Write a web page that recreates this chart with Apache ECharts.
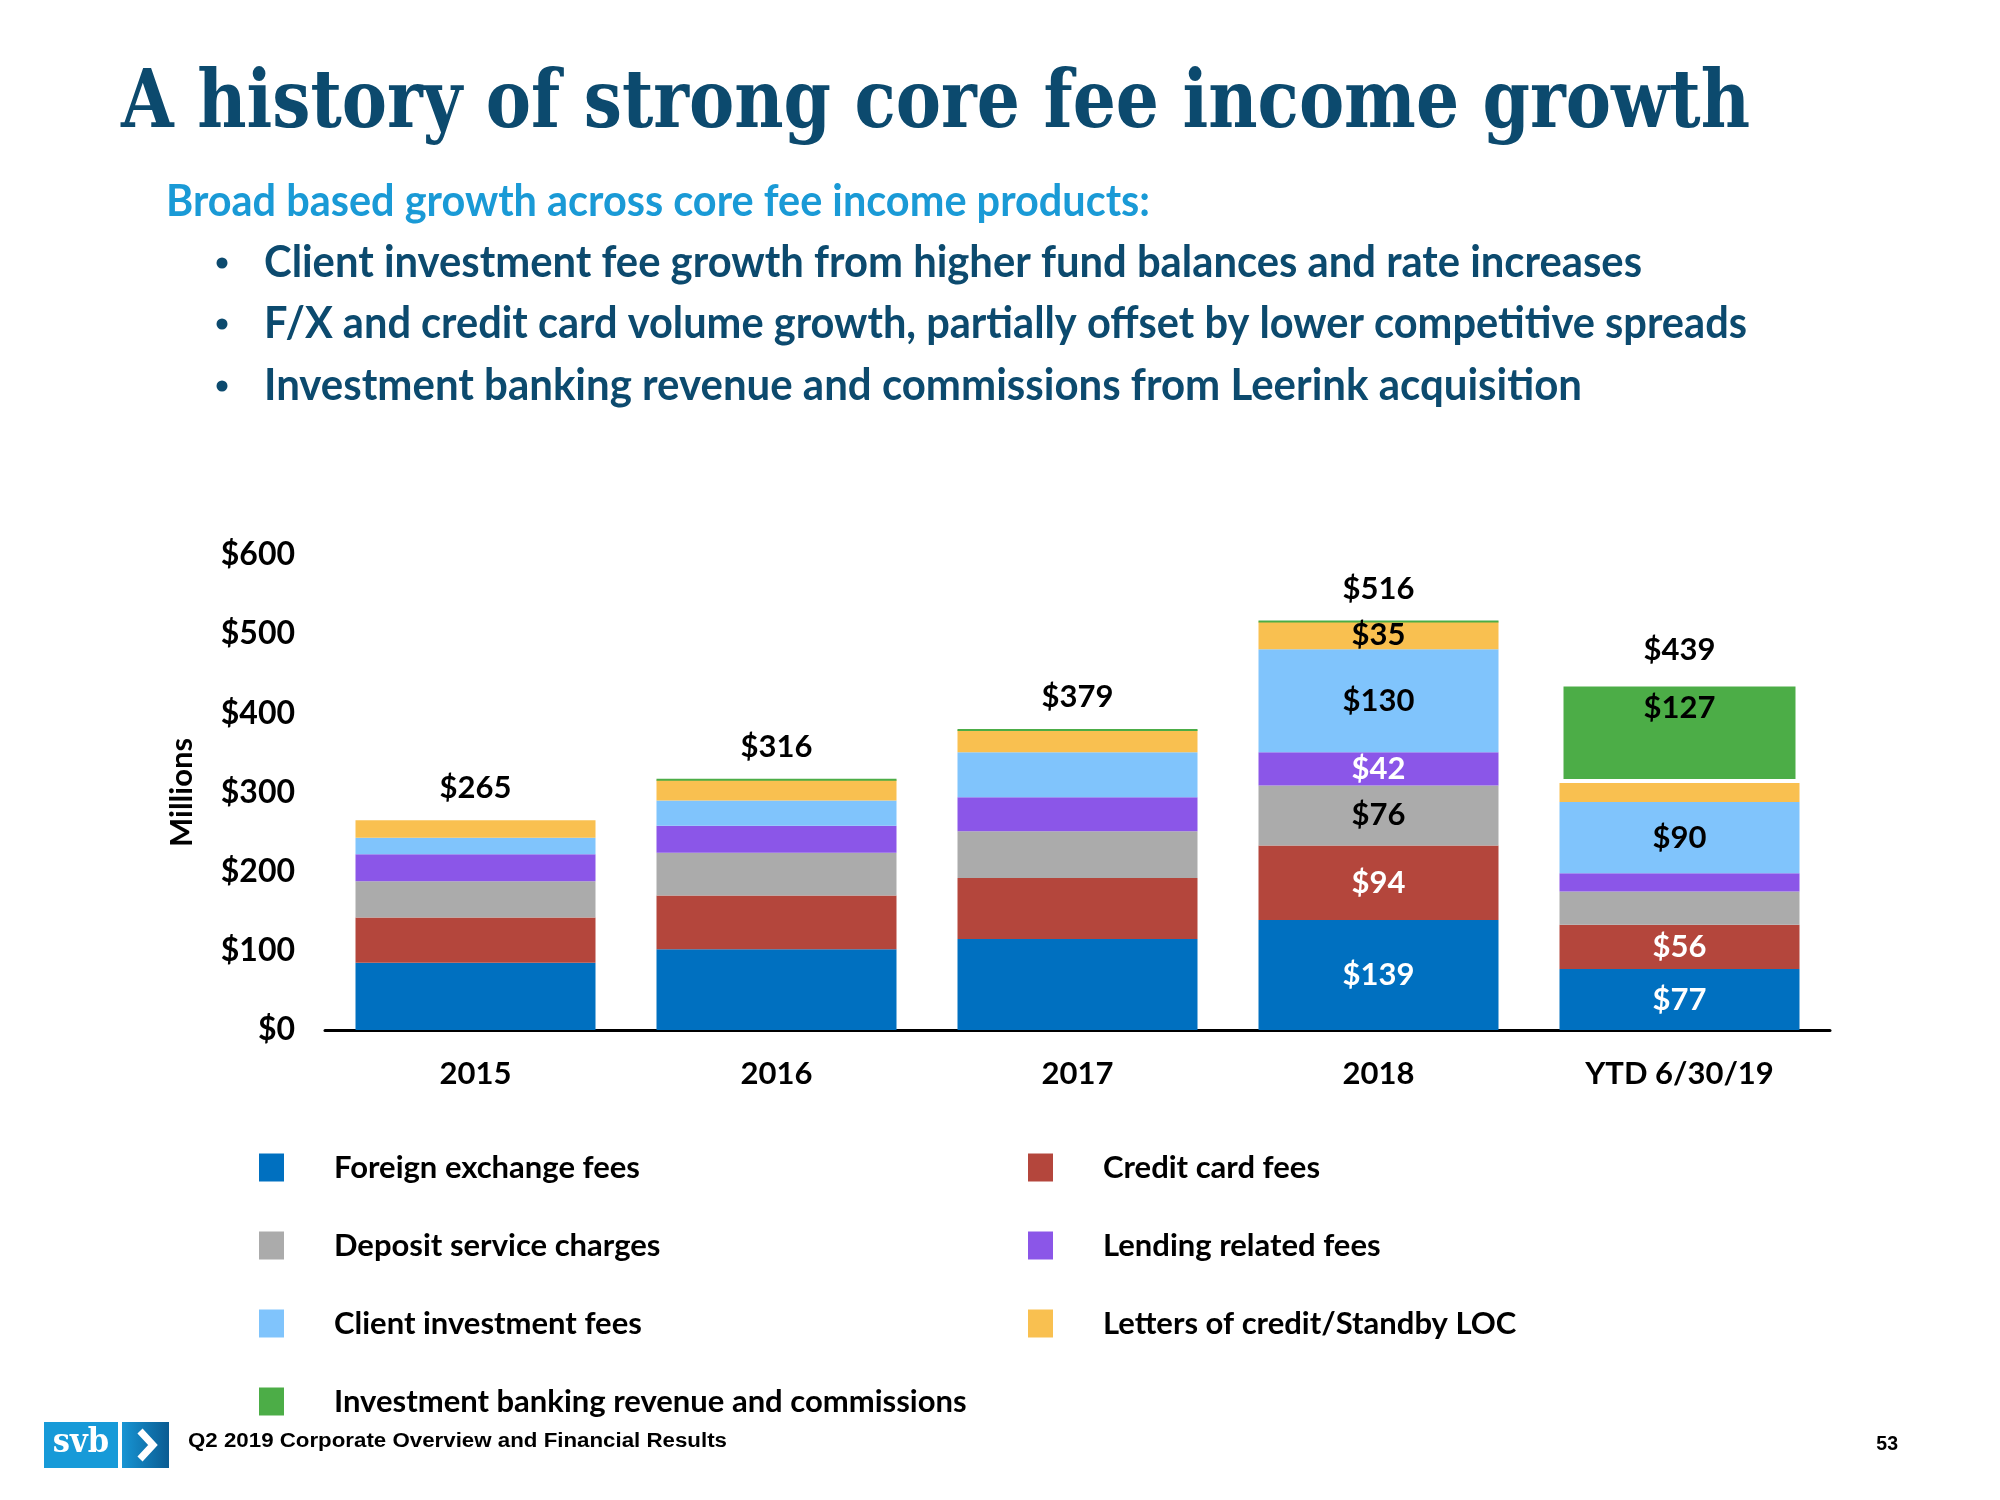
<!DOCTYPE html>
<html><head><meta charset="utf-8">
<script src="https://cdn.jsdelivr.net/npm/echarts@6/dist/echarts.min.js"></script>
<style>html,body{margin:0;padding:0;background:#fff}#c{width:2000px;height:1500px}</style>
</head><body><div id="c"></div>
<script>
// ---- data ----
const categories = ['2015', '2016', '2017', '2018', 'YTD 6/30/19'];
const foreignExchange   = [85, 102, 115, 139, 77];
const creditCard        = [57, 68, 77, 94, 56];
const depositService    = [46, 54, 59, 76, 42];
const lendingRelated    = [34, 34, 43, 42, 23];
const clientInvestment  = [21, 32, 57, 130, 90];
const lettersOfCredit   = [22, 26, 28, 35, 24];
const investmentBanking = [0, 0, 0, 0, 127];
const totals = [265, 316, 379, 516, 439];
const yMin = 0, yMax = 600, yStep = 100;

const titleText = 'A history of strong core fee income growth';
const subtitleText = 'Broad based growth across core fee income products:';
const bullets = [
  'Client investment fee growth from higher fund balances and rate increases',
  'F/X and credit card volume growth, partially offset by lower competitive spreads',
  'Investment banking revenue and commissions from Leerink acquisition'
];
const footerText = 'Q2 2019 Corporate Overview and Financial Results';
const pageNumber = '53';

// ---- styles ----
const seriesDefs = [
  {name: 'Foreign exchange fees', data: foreignExchange, color: '#0070c0', lc: '#ffffff', labelAt: [3, 4]},
  {name: 'Credit card fees', data: creditCard, color: '#b4463c', lc: '#ffffff', labelAt: [3, 4]},
  {name: 'Deposit service charges', data: depositService, color: '#ababab', lc: '#000000', labelAt: [3]},
  {name: 'Lending related fees', data: lendingRelated, color: '#8b56e8', lc: '#ffffff', labelAt: [3]},
  {name: 'Client investment fees', data: clientInvestment, color: '#80c4fc', lc: '#000000', labelAt: [3, 4]},
  {name: 'Letters of credit/Standby LOC', data: lettersOfCredit, color: '#f9c050', lc: '#000000', labelAt: [3]},
  {name: 'Investment banking revenue and commissions', data: investmentBanking, color: '#4cad47', lc: '#000000', labelAt: [4], top: true,
   edge: {1: ['#4cad47', 2], 2: ['#4cad47', 2], 3: ['#4cad47', 2], 4: ['#ffffff', 4]}}
];

const NAVY = '#0c4a6e';
const FONT = 'Lato, "Noto Sans", sans-serif';

const mctx = document.createElement('canvas').getContext('2d');
function fit(text, font, width) { mctx.font = font; return width / mctx.measureText(text).width; }
function fitText(text, font, x, y, width, fill) {
  return {type: 'text', x: x, y: y, scaleX: fit(text, font, width), scaleY: 1,
    style: {text: text, font: font, fill: fill, textAlign: 'left', textVerticalAlign: 'middle'}};
}

const titleFont = 'bold 81px "DejaVu Serif Condensed", "DejaVu Serif", serif';
const bodyFont = 'bold 43px Lato, "Noto Sans", sans-serif';
const footFont = 'bold 19.5px "Liberation Sans", Arial, sans-serif';

const graphics = [
  fitText(titleText, titleFont, 121, 106, 1629, NAVY),
  fitText(subtitleText, bodyFont, 166, 202, 984, '#1a9ad6')
];
const bulletY = [263, 324, 386];
const bulletW = [1378, 1483, 1318];
bullets.forEach((b, i) => {
  graphics.push({type: 'circle', shape: {cx: 222, cy: bulletY[i], r: 5.5}, style: {fill: NAVY}});
  graphics.push(fitText(b, bodyFont, 264, bulletY[i], bulletW[i], NAVY));
});
// logo
graphics.push({type: 'rect', shape: {x: 44, y: 1422, width: 74, height: 46}, style: {fill: '#179ad8'}});
graphics.push({type: 'rect', shape: {x: 122, y: 1422, width: 47, height: 46},
  style: {fill: new echarts.graphic.LinearGradient(0, 0, 1, 0, [{offset: 0, color: '#1794d3'}, {offset: 1, color: '#0b5c92'}])}});
graphics.push({type: 'text', x: 81, y: 1443, style: {text: 'svb', font: 'bold 34px "DejaVu Serif Condensed", "DejaVu Serif", serif', fill: '#ffffff', textAlign: 'center', textVerticalAlign: 'middle'}});
graphics.push({type: 'polyline', shape: {points: [[140, 1431], [153, 1445], [140, 1459]]}, style: {stroke: '#ffffff', lineWidth: 7, fill: null}});
graphics.push(fitText(footerText, footFont, 188, 1442, 539, '#000000'));
graphics.push({type: 'text', x: 1898, y: 1445, style: {text: pageNumber, font: footFont, fill: '#000000', textAlign: 'right', textVerticalAlign: 'middle'}});

const labelBase = {fontFamily: FONT, fontWeight: 'bold', fontSize: 31, textBorderWidth: 0, textShadowBlur: 0};
const series = seriesDefs.map(d => ({
  name: d.name, type: 'bar', stack: 'total', barWidth: 240,
  itemStyle: {color: d.color, borderWidth: 0},
  data: d.data.map((v, i) => {
    const item = {value: v, label: {show: d.labelAt.indexOf(i) >= 0 && v > 0}};
    if (d.edge && d.edge[i]) item.itemStyle = {borderColor: d.edge[i][0], borderWidth: d.edge[i][1]};
    return item;
  }),
  label: Object.assign({position: d.top ? 'insideTop' : 'inside', distance: 10,
    formatter: p => '$' + p.value, color: d.lc}, labelBase),
  emphasis: {disabled: true}
}));
// totals shown above each stack (invisible overlay bar carrying the label)
series.push({
  name: 'Total', type: 'bar', barGap: '-100%', barWidth: 240, data: totals, z: 10,
  itemStyle: {color: 'rgba(0,0,0,0)'},
  label: Object.assign({show: true, position: 'top', distance: 17, formatter: p => '$' + p.value,
    color: '#000000'}, labelBase),
  emphasis: {disabled: true}
});

const legendCommon = {
  orient: 'vertical', icon: 'rect', itemWidth: 25, itemHeight: 28, itemGap: 47, padding: 0,
  selectedMode: false,
  textStyle: {fontFamily: FONT, fontWeight: 'bold', fontSize: 31, color: '#000', lineHeight: 28, height: 28, padding: [0, 0, 0, 45]}
};

const chart = echarts.init(document.getElementById('c'), null, {renderer: 'canvas'});
chart.setOption({
  animation: false,
  backgroundColor: '#ffffff',
  tooltip: {show: false},
  grid: {left: 325, top: 555, width: 1505, height: 475, containLabel: false},
  xAxis: {
    type: 'category', data: categories,
    axisLine: {lineStyle: {color: '#000', width: 3}},
    axisTick: {show: false},
    axisLabel: {color: '#000', fontFamily: FONT, fontWeight: 'bold', fontSize: 31, margin: 28}
  },
  yAxis: {
    type: 'value', min: yMin, max: yMax, interval: yStep,
    name: 'Millions', nameLocation: 'middle', nameGap: 128, nameRotate: 90,
    nameTextStyle: {color: '#000', fontFamily: FONT, fontWeight: 'bold', fontSize: 31},
    axisLine: {show: false}, axisTick: {show: false}, splitLine: {show: false},
    axisLabel: {color: '#000', fontFamily: FONT, fontWeight: 'bold', fontSize: 32, margin: 30,
      formatter: v => '$' + v}
  },
  legend: [
    Object.assign({left: 259, top: 1152, data: [seriesDefs[0].name, seriesDefs[2].name, seriesDefs[4].name, seriesDefs[6].name]}, legendCommon),
    Object.assign({left: 1028, top: 1152, data: [seriesDefs[1].name, seriesDefs[3].name, seriesDefs[5].name]}, legendCommon)
  ],
  series: series,
  graphic: {elements: graphics}
});
</script></body></html>
